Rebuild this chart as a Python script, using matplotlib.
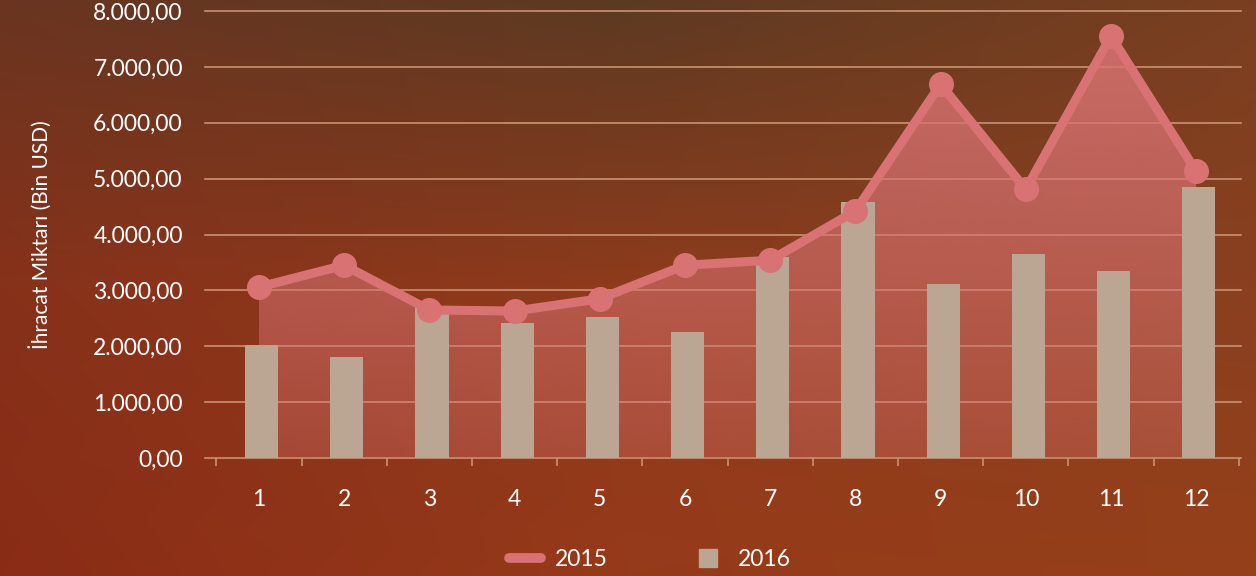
import matplotlib

matplotlib.use("Agg")
import matplotlib.pyplot as plt
import numpy as np
from matplotlib.colors import to_rgb
from matplotlib.lines import Line2D
from matplotlib.ticker import FuncFormatter, MultipleLocator

months = [str(m) for m in range(1, 13)]
exports_2015 = [3060, 3450, 2650, 2630, 2850, 3450, 3540, 4420, 6690, 4810, 7550, 5130]
exports_2016 = [2020, 1810, 2700, 2420, 2520, 2260, 3600, 4580, 3110, 3650, 3350, 4850]
y_ticks = list(range(0, 8001, 1000))

LINE_COLOR = "#d97373"
BAR_COLOR = "#bba593"
GRID_COLOR = "#c99272"
TEXT_COLOR = "white"

plt.rcParams["font.family"] = ["Lato", "DejaVu Sans"]


def tr_number(v, _pos=None):
    s = f"{v:,.2f}"
    return s.replace(",", "X").replace(".", ",").replace("X", ".")


def draw_background(fig):
    corners = [
        ["#6a3520", "#5c3a22", "#7a3f20"],
        ["#87311a", "#8f3b1c", "#8a4020"],
        ["#8a2c16", "#963a1a", "#954019"],
    ]
    ctrl = np.array([[to_rgb(c) for c in row] for row in corners])
    h, w = 120, 260
    yy = np.linspace(0, 2, h)
    xx = np.linspace(0, 2, w)
    img = np.zeros((h, w, 3))
    for i, fy in enumerate(yy):
        r0 = min(int(fy), 1)
        ty = fy - r0
        for j, fx in enumerate(xx):
            c0 = min(int(fx), 1)
            tx = fx - c0
            top = ctrl[r0, c0] * (1 - tx) + ctrl[r0, c0 + 1] * tx
            bot = ctrl[r0 + 1, c0] * (1 - tx) + ctrl[r0 + 1, c0 + 1] * tx
            img[i, j] = top * (1 - ty) + bot * ty
    bg = fig.add_axes([0, 0, 1, 1], zorder=-10)
    bg.imshow(img, aspect="auto", interpolation="bilinear", extent=[0, 1, 0, 1])
    bg.axis("off")


fig = plt.figure(figsize=(12.56, 5.76), dpi=100)
draw_background(fig)

ax = fig.add_axes([205 / 1256, 1 - 458 / 576, 1036 / 1256, 447 / 576])
ax.set_facecolor("none")

x = np.arange(len(months))

# gradient area under the 2015 line
poly = ax.fill_between(x, exports_2015, 0, color="none", lw=0)
alpha = np.linspace(0.33, 0.9, 200)[:, None]
grad = np.zeros((200, 2, 4))
grad[..., :3] = to_rgb(LINE_COLOR)
grad[..., 3] = alpha
im = ax.imshow(grad, aspect="auto", origin="lower", interpolation="bilinear",
               extent=[x[0], x[-1], 0, 8000], zorder=1)
im.set_clip_path(poly.get_paths()[0], transform=ax.transData)

ax.bar(x + 0.03, exports_2016, width=0.39, color=BAR_COLOR, zorder=2)
ax.plot(x, exports_2015, color=LINE_COLOR, lw=6.5, marker="o", markersize=17,
        solid_joinstyle="round", solid_capstyle="round", zorder=3)

ax.set_xlim((205 - 259) / 85.2, (1241 - 259) / 85.2)
ax.set_ylim(0, 8000)
ax.set_yticks(y_ticks)
ax.yaxis.set_major_formatter(FuncFormatter(tr_number))
ax.set_xticks(x)
ax.set_xticklabels(months)
ax.xaxis.set_minor_locator(MultipleLocator(1, offset=0.5))

ax.grid(axis="y", color=GRID_COLOR, lw=1.2)
for gl in ax.get_ygridlines():
    gl.set_clip_on(False)
ax.set_axisbelow(True)
for s in ax.spines.values():
    s.set_visible(False)

ax.tick_params(axis="y", length=0, pad=16, labelsize=16.5, labelcolor=TEXT_COLOR)
ax.tick_params(axis="x", which="major", length=0, pad=22, labelsize=16.5, labelcolor=TEXT_COLOR)
ax.tick_params(axis="x", which="minor", length=6, width=1.2, color=GRID_COLOR, direction="out")

ax.set_ylabel("İhracat Miktarı (Bin USD)", color=TEXT_COLOR, fontsize=15, labelpad=30)

handles = [
    Line2D([], [], color=LINE_COLOR, lw=7, solid_capstyle="round", label="2015"),
    Line2D([], [], color=BAR_COLOR, marker="s", ls="none", markersize=12.5, label="2016"),
]
leg = fig.legend(handles=handles, loc="center", bbox_to_anchor=(650 / 1256, 1 - 560 / 576), ncol=2,
                 frameon=False, fontsize=16.5, handlelength=1.4, handletextpad=0.6,
                 columnspacing=3.7, labelcolor=TEXT_COLOR)

fig.savefig("out.png", dpi=100)
